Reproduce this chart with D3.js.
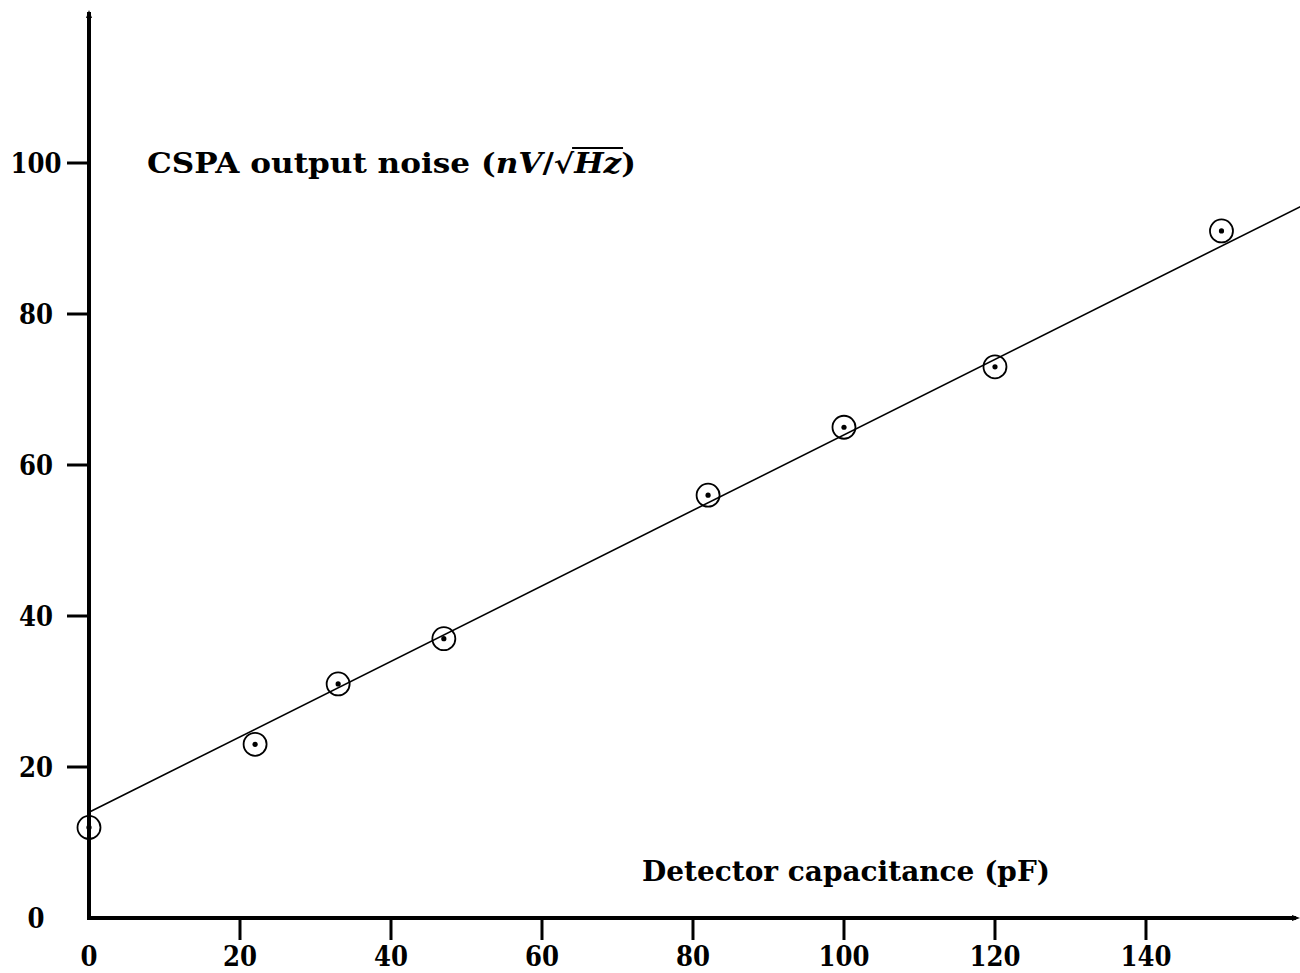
<!DOCTYPE html>
<html>
<head>
<meta charset="utf-8">
<script src="https://cdn.jsdelivr.net/npm/d3@7"></script>
<style>
  body { margin: 0; background: #fff; }
  svg text { font-family: "DejaVu Serif", "Liberation Serif", serif; font-weight: bold; fill: #000; }
</style>
</head>
<body>
<svg class="graph" width="1300" height="973"></svg>
<script>
// measured points (pF, nV/sqrt(Hz))
var capacitance = [0, 22, 33, 47, 82, 100, 120, 150];
var noise = [12, 23, 31, 37, 56, 65, 73, 91];
// fitted straight line, end points
var fitX = [0, 161];
var fitY = [14, 94.5];
var xTicks = [0, 20, 40, 60, 80, 100, 120, 140];
var yTicks = [0, 20, 40, 60, 80, 100];

var svg = d3.select('svg.graph');

var x = d3.scaleLinear().domain([0, 160.4]).range([89, 1300]);
var y = d3.scaleLinear().domain([0, 100]).range([918, 163]);

// digits in the original are narrower than DejaVu's
var digitW = 17;
var labelLen = function(d) { return String(d).length * digitW; };

// fit line
var line = d3.line()
  .x(function(d) { return x(d[0]); })
  .y(function(d) { return y(d[1]); });
svg.append("path")
  .datum(d3.zip(fitX, fitY))
  .attr("d", line)
  .attr("fill", "none")
  .attr("stroke", "#000")
  .attr("stroke-width", 1.6);

// axes (drawn by hand so the ticks stick out like the original)
var g = svg.append("g");
g.append("line")
  .attr("x1", x(0)).attr("x2", x(0))
  .attr("y1", y(0) + 2).attr("y2", 12)
  .attr("stroke", "#000").attr("stroke-width", 4);
g.append("path")
  .attr("d", "M" + (x(0) - 3) + ",18 L" + x(0) + ",10 L" + (x(0) + 3) + ",18 Z")
  .attr("fill", "#000");
g.append("line")
  .attr("x1", x(0) - 2).attr("x2", 1296)
  .attr("y1", y(0)).attr("y2", y(0))
  .attr("stroke", "#000").attr("stroke-width", 4);
g.append("path")
  .attr("d", "M1292," + (y(0) - 3) + " L1300," + y(0) + " L1292," + (y(0) + 3) + " Z")
  .attr("fill", "#000");

g.selectAll("line.ytick")
  .data(yTicks.filter(function(d) { return d > 0; }))
  .enter().append("line")
    .attr("class", "ytick")
    .attr("x1", x(0) - 22).attr("x2", x(0))
    .attr("y1", function(d) { return y(d); })
    .attr("y2", function(d) { return y(d); })
    .attr("stroke", "#000").attr("stroke-width", 3);

g.selectAll("text.ylab")
  .data(yTicks)
  .enter().append("text")
    .attr("class", "ylab")
    .attr("x", function(d) { return 36 - labelLen(d) / 2; })
    .attr("y", function(d) { return y(d) + 10; })
    .attr("textLength", labelLen)
    .attr("lengthAdjust", "spacingAndGlyphs")
    .style("font-size", "28px")
    .text(function(d) { return d; });

g.selectAll("line.xtick")
  .data(xTicks.filter(function(d) { return d > 0; }))
  .enter().append("line")
    .attr("class", "xtick")
    .attr("x1", function(d) { return x(d); })
    .attr("x2", function(d) { return x(d); })
    .attr("y1", y(0)).attr("y2", y(0) + 22)
    .attr("stroke", "#000").attr("stroke-width", 3);

g.selectAll("text.xlab")
  .data(xTicks)
  .enter().append("text")
    .attr("class", "xlab")
    .attr("x", function(d) { return x(d) - labelLen(d) / 2; })
    .attr("y", 966)
    .attr("textLength", labelLen)
    .attr("lengthAdjust", "spacingAndGlyphs")
    .style("font-size", "28px")
    .text(function(d) { return d; });

// data points: open circle with a dot
var pts = svg.append("g").selectAll("g")
  .data(d3.zip(capacitance, noise))
  .enter().append("g")
    .attr("transform", function(d) { return "translate(" + x(d[0]) + "," + y(d[1]) + ")"; });
pts.append("circle")
  .attr("r", 11.5)
  .attr("fill", "none")
  .attr("stroke", "#000")
  .attr("stroke-width", 1.8);
pts.append("circle")
  .attr("r", 2.6)
  .attr("fill", "#000");

// axis titles
var yt = svg.append("text")
  .attr("x", 147).attr("y", 173)
  .attr("textLength", 489)
  .attr("lengthAdjust", "spacingAndGlyphs")
  .style("font-size", "27px");
yt.append("tspan").text("CSPA output noise (");
yt.append("tspan").style("font-style", "italic").text("nV");
yt.append("tspan").text("/\u221A");
var hz = yt.append("tspan").style("font-style", "italic").text("Hz");
yt.append("tspan").text(")");

var bb = hz.node().getBBox();
svg.append("line")
  .attr("x1", bb.x - 1).attr("x2", bb.x + bb.width + 1)
  .attr("y1", 148).attr("y2", 148)
  .attr("stroke", "#000").attr("stroke-width", 2);

svg.append("text")
  .attr("x", 642).attr("y", 881)
  .attr("textLength", 408)
  .attr("lengthAdjust", "spacingAndGlyphs")
  .style("font-size", "27px")
  .text("Detector capacitance (pF)");
</script>
</body>
</html>
